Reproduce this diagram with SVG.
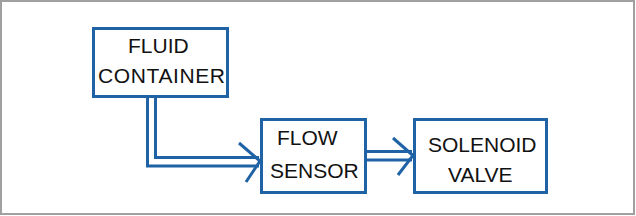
<svg xmlns="http://www.w3.org/2000/svg" width="636" height="216" viewBox="0 0 636 216">
<style>
.box{fill:#fff;stroke:#1f63a6;stroke-width:3}
.ln{fill:none;stroke:#1f63a6;stroke-width:3}
text{font-family:"Liberation Sans",Arial,sans-serif;font-size:21px;fill:#111}
</style>
<rect x="0" y="0" width="636" height="216" fill="#fff"/>
<rect x="1" y="1" width="633" height="213" fill="none" stroke="#a0a0a0" stroke-width="2"/>
<g id="connectors">
<path class="ln" d="M147.5 97 V166 H259"/>
<path class="ln" d="M155.5 97 V157.5 H259"/>
<path class="ln" d="M239 143 L260 161 L246 182"/>
<path class="ln" d="M366 151.5 H412"/>
<path class="ln" d="M366 160 H412"/>
<path class="ln" d="M393 138 L413 155.5 L398 175"/>
</g>
<g id="fluid-container">
<rect class="box" x="93.5" y="28.5" width="134" height="68"/>
<text x="128" y="53">FLUID</text>
<text x="98" y="83" textLength="127">CONTAINER</text>
</g>
<g id="flow-sensor">
<rect class="box" x="261.5" y="119.5" width="104" height="73"/>
<text x="277" y="145">FLOW</text>
<text x="270" y="178">SENSOR</text>
</g>
<g id="solenoid-valve">
<rect class="box" x="414.5" y="119.5" width="132" height="73"/>
<text x="428" y="152">SOLENOID</text>
<text x="448" y="182">VALVE</text>
</g>
</svg>
